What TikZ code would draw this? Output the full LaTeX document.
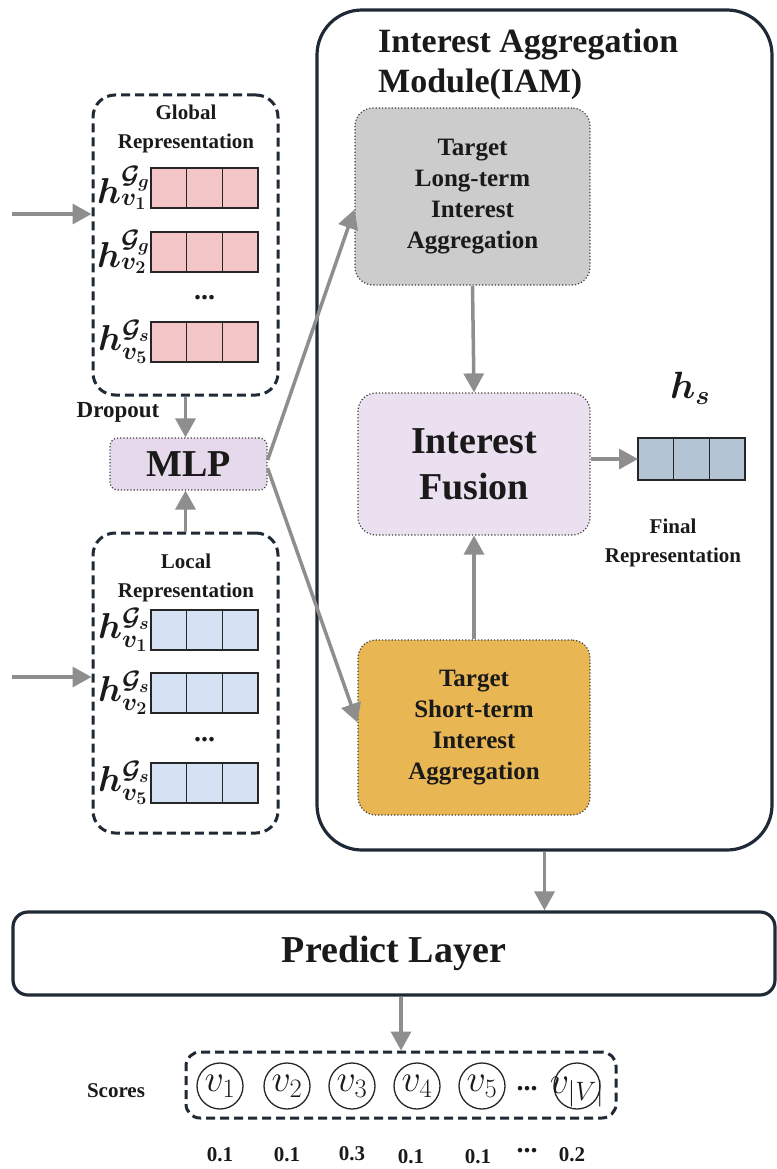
\RequirePackage{fix-cm}
\documentclass[tikz,border=0pt]{standalone}
\usepackage{amsmath,bm}
\usepackage{fontspec}
\setmainfont{Liberation Serif}
\usetikzlibrary{arrows.meta}
\definecolor{arrowgray}{HTML}{8E8E8E}
\definecolor{navy}{HTML}{1F2A36}
\definecolor{pinkc}{HTML}{F5C6C8}
\definecolor{bluec}{HTML}{D4E2F4}
\definecolor{hsc}{HTML}{B3C5D5}
\definecolor{ltgray}{HTML}{CCCCCC}
\definecolor{lav}{HTML}{EBE0F0}
\definecolor{goldc}{HTML}{E9B654}
\definecolor{mlpc}{HTML}{E7D9EC}
\definecolor{txt}{HTML}{1A1A1A}
\newcommand\vecrow[4]{%
  \node[cell,fill=#4,anchor=west] (#1a) at (#2,#3) {};
  \node[cell,fill=#4,anchor=west] (#1b) at (#1a.east) {};
  \node[cell,fill=#4,anchor=west] (#1c) at (#1b.east) {};
}
\begin{document}
\begin{tikzpicture}[x=1pt,y=-1pt,
  every node/.style={text=txt},
  arr/.style={draw=arrowgray, line width=3.5pt, -{Triangle[length=19pt,width=20pt]}},
  dashbox/.style={draw=navy, line width=3pt, dash pattern=on 9pt off 5pt, rounded corners=22pt, inner sep=0},
  dotbox/.style={draw=black!75, line width=1.2pt, dotted, rounded corners=18pt, inner sep=0},
  cell/.style={draw=black!85, line width=1.5pt, minimum width=35.7pt, minimum height=40pt, inner sep=0, outer sep=0},
  hlab/.style={anchor=east, inner sep=1pt, font=\fontsize{36}{36}\selectfont},
  small/.style={font=\fontsize{21}{29}\selectfont\bfseries, align=center, inner sep=0},
  num/.style={font=\fontsize{21}{21}\selectfont\bfseries, inner sep=0},
  dots/.style={font=\fontsize{28}{28}\selectfont\bfseries, inner sep=0},
  vnode/.style={circle, draw=black!85, line width=1.3pt, minimum size=46pt, inner sep=0},
  vlab/.style={inner sep=0, font=\fontsize{38}{38}\selectfont}
]
\useasboundingbox (0,0) rectangle (776,1169);

% IAM module
\node[draw=navy, line width=3.2pt, rounded corners=45pt, minimum width=455pt, minimum height=840pt, inner sep=0] (iam) at (544.5,430) {};
\node[anchor=west, align=left, font=\fontsize{34}{40}\selectfont\bfseries, inner sep=0] (iamt) at (378,64) {Interest Aggregation\\Module(IAM)};

\node[dotbox, fill=ltgray, minimum width=235pt, minimum height=177pt, align=center, font=\fontsize{25}{31}\selectfont\bfseries] (lt) at (472.5,196.5) {Target\\Long-term\\Interest\\Aggregation};
\node[dotbox, fill=lav, minimum width=232pt, minimum height=142pt, align=center, font=\fontsize{38}{46}\selectfont\bfseries] (fu) at (474,464) {Interest\\Fusion};
\node[dotbox, fill=goldc, minimum width=232pt, minimum height=175pt, align=center, font=\fontsize{25}{31}\selectfont\bfseries] (st) at (474,727.5) {Target\\Short-term\\Interest\\Aggregation};

\draw[arr] (lt.south) -- (fu.north);
\draw[arr] (st.north) -- (fu.south);

% final representation
\node[cell,fill=hsc,anchor=west,minimum height=42pt] (hsa) at (638,459) {};
\node[cell,fill=hsc,anchor=west,minimum height=42pt] (hsb) at (hsa.east) {};
\node[cell,fill=hsc,anchor=west,minimum height=42pt] (hsc) at (hsb.east) {};
\node[font=\fontsize{38}{38}\selectfont, inner sep=0] (hsl) at (690,388) {$\bm{h_s}$};
\node[small] (fin) at (673,543) {Final\\Representation};
\draw[arr] (fu.east |- hsa.west) -- (hsa.west);

% global representation
\node[dashbox, minimum width=185pt, minimum height=300pt] (gb) at (185.5,245) {};
\node[small] (gbt) at (186,129) {Global\\Representation};
\vecrow{g1}{151}{188}{pinkc}
\vecrow{g2}{151}{252}{pinkc}
\vecrow{g3}{151}{342}{pinkc}
\node[hlab] (g1l) at (g1a.west) {$\bm{h^{\mathcal{G}_g}_{v_1}}$};
\node[hlab] (g2l) at (g2a.west) {$\bm{h^{\mathcal{G}_g}_{v_2}}$};
\node[hlab] (g3l) at (g3a.west) {$\bm{h^{\mathcal{G}_s}_{v_5}}$};
\node[dots] (gdots) at (g2b.center |- 0,298) {...};

% local representation
\node[dashbox, minimum width=185pt, minimum height=300pt] (lb) at (185.5,683) {};
\node[small] (lbt) at (186,578) {Local\\Representation};
\vecrow{l1}{151}{630}{bluec}
\vecrow{l2}{151}{693}{bluec}
\vecrow{l3}{151}{783}{bluec}
\node[hlab] (l1l) at (l1a.west) {$\bm{h^{\mathcal{G}_s}_{v_1}}$};
\node[hlab] (l2l) at (l2a.west) {$\bm{h^{\mathcal{G}_s}_{v_2}}$};
\node[hlab] (l3l) at (l3a.west) {$\bm{h^{\mathcal{G}_s}_{v_5}}$};
\node[dots] (ldots) at (l2b.center |- 0,740) {...};

% MLP
\node[dotbox, fill=mlpc, rounded corners=8pt, minimum width=157pt, minimum height=52pt, font=\fontsize{38}{38}\selectfont\bfseries] (mlp) at (188.5,464) {MLP};
\node[font=\fontsize{23}{23}\selectfont\bfseries, inner sep=0] (drop) at (118,412) {Dropout};
\draw[arr] (gb.south) -- (gb.south |- mlp.north);
\draw[arr] (lb.north) -- (lb.north |- mlp.south);
\draw[arr] ([yshift=4pt]mlp.east) -- ([yshift=-13pt]lt.west);
\draw[arr] ([yshift=-4pt]mlp.east) -- ([yshift=5pt]st.west);

% inputs
\coordinate (in1) at (12,214);
\coordinate (in2) at (12,677);
\draw[arr] (in1) -- (in1 -| gb.west);
\draw[arr] (in2) -- (in2 -| lb.west);

% predict layer
\node[draw=navy, line width=3.2pt, rounded corners=15pt, minimum width=762pt, minimum height=83pt, inner sep=0, font=\fontsize{38}{38}\selectfont\bfseries] (pl) at (394,953.5) {Predict Layer};
\draw[arr] (iam.south) -- (iam.south |- pl.north);

% scores
\node[dashbox, rounded corners=14pt, minimum width=430pt, minimum height=66pt] (sc) at (401,1085) {};
\draw[arr] (sc.north |- pl.south) -- (sc.north);
\node[num] (scl) at (116,1091) {Scores};
\node[vnode] (c1) at (220,1086) {};
\node[vnode] (c2) at (287,1086) {};
\node[vnode] (c3) at (352,1086) {};
\node[vnode] (c4) at (417,1086) {};
\node[vnode] (c5) at (482,1086) {};
\node[vnode] (cV) at (577,1086) {};
\node[vlab] at (c1) {$v_1$};
\node[vlab] at (c2) {$v_2$};
\node[vlab] at (c3) {$v_3$};
\node[vlab] at (c4) {$v_4$};
\node[vlab] at (c5) {$v_5$};
\node[vlab, yshift=-6pt] at (cV) {$v_{|V|}$};
\node[dots] (cd) at (527,1089) {...};
\node[num] (n1) at (c1 |- 0,1155) {0.1};
\node[num] (n2) at (c2 |- 0,1155) {0.1};
\node[num] (n3) at (c3 |- 0,1154) {0.3};
\node[num] (n4) at (411,1157) {0.1};
\node[num] (n5) at (478,1157) {0.1};
\node[dots] (nd) at (527,1151) {...};
\node[num] (n6) at (572,1155) {0.2};
\end{tikzpicture}
\end{document}
